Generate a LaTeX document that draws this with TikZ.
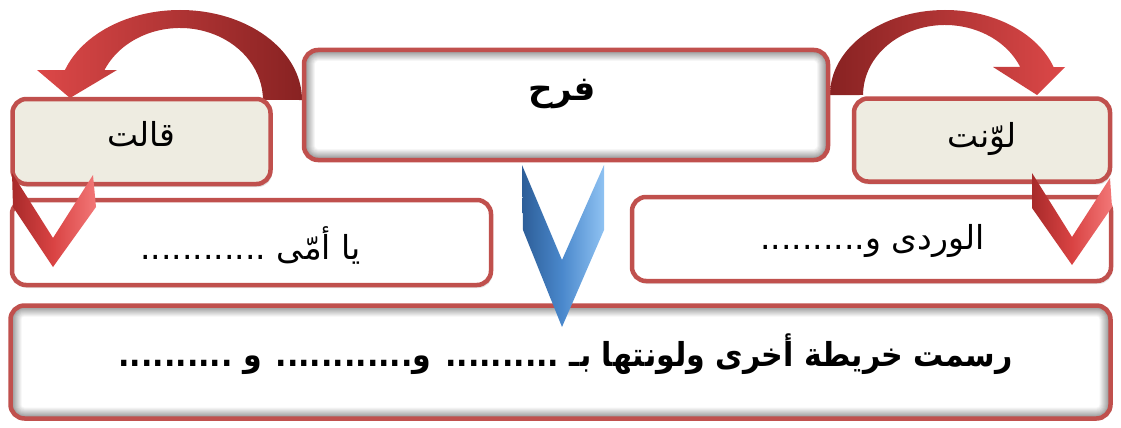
\documentclass[tikz,border=0pt]{standalone}
\usepackage{fontspec}
\usetikzlibrary{calc,shadows}
\TeXXeTstate=1
\newfontfamily\arabicfont[Script=Arabic]{DejaVu Sans}
\newfontfamily\arabiccond[Script=Arabic,FakeStretch=0.91]{DejaVu Sans}
\definecolor{boxred}{HTML}{C0504D}
\definecolor{beige}{HTML}{EEECE1}
\definecolor{arrowlight}{HTML}{DC4848}
\definecolor{arrowdark}{HTML}{882222}
\definecolor{chevlight}{HTML}{F27777}
\definecolor{chevmid}{HTML}{D94343}
\definecolor{chevdark}{HTML}{A82A2A}
\definecolor{bluelight}{HTML}{8FC2F2}
\definecolor{bluemid}{HTML}{4A88CC}
\definecolor{bluedark}{HTML}{2D5E98}
\tikzset{
  frame/.style={draw=boxred, line width=4.5pt, rounded corners=14pt, inner sep=0pt},
  beigebox/.style={frame, fill=beige, drop shadow={opacity=0.25, shadow xshift=1.5pt, shadow yshift=-3pt}},
  whitebox/.style={frame, fill=white, drop shadow={opacity=0.2, shadow xshift=1.5pt, shadow yshift=-3pt}},
  glowbox/.style={frame, fill=white,
    path picture={
      \foreach \ii in {0,...,11}{
        \pgfmathtruncatemacro\shadeval{max(44-4*\ii,0)}
        \pgfmathsetmacro\rr{max(14-\ii,2)}
        \fill[black!\shadeval!white, rounded corners=\rr pt]
          ($(path picture bounding box.north west)+(\ii,\ii)$) rectangle
          ($(path picture bounding box.south east)+(-\ii,-\ii)$);
      }
    }},
  lbl/.style={font=\arabicfont\fontsize{33}{38}\selectfont, inner sep=0pt},
  boldlbl/.style={font=\arabicfont\bfseries\fontsize{34}{38}\selectfont, inner sep=0pt},
  condlbl/.style={font=\arabiccond\bfseries\fontsize{33}{38}\selectfont, inner sep=0pt},
}
\begin{document}
\begin{tikzpicture}[x=1pt,y=-1pt]
\useasboundingbox (0,0) rectangle (1121,428);

% curved arrows (behind the top box)
\shade[left color=arrowlight, right color=arrowdark]
  (302,100) arc[start angle=0, end angle=-160.53, x radius=122, y radius=90]
  -- (37,70) -- (70,98) -- (117,70) -- (104.5,70)
  arc[start angle=-155.38, end angle=0, x radius=83, y radius=72] -- cycle;
\shade[left color=arrowdark, right color=arrowlight]
  (830,95) arc[start angle=180, end angle=340.8, x radius=115, y radius=85]
  -- (1065,67) -- (1037,95) -- (993,67) -- (1020.2,67)
  arc[start angle=336.42, end angle=180, x radius=82, y radius=70] -- cycle;

% boxes
\node[glowbox, minimum width=524pt, minimum height=110pt] (top) at (566,105) {};
\node[beigebox, minimum width=258pt, minimum height=85pt] (said) at (141.5,141.5) {};
\node[beigebox, minimum width=256pt, minimum height=83pt] (colored) at (982,140) {};
\node[whitebox, minimum width=479pt, minimum height=85pt] (mom) at (251.5,242.5) {};
\node[whitebox, minimum width=479pt, minimum height=84pt] (pink) at (871.5,239) {};
\node[glowbox, minimum width=1100pt, minimum height=113pt] (drew) at (560.5,362) {};

% texts
\node[boldlbl] (ttop) at ($(top.center)+(-4,-11)$) {\beginR فرح\endR};
\node[lbl] (tsaid) at ($(said.center)+(0,-7)$) {\beginR قالت\endR};
\node[lbl] (tcol) at ($(colored.center)+(0,-1)$) {\beginR لوّنت\endR};
\node[lbl] (tmom) at ($(mom.center)+(-1,3)$) {\beginR يا أمّى ............\endR};
\node[lbl] (tpink) at ($(pink.center)+(1,2)$) {\beginR الوردى و..........\endR};
\node[condlbl] (tdrew) at ($(drew.center)+(5,-8)$) {\beginR رسمت خريطة أخرى ولونتها بـ .......... و............ و ..........\endR};

% red chevrons
\shade[left color=chevdark, right color=chevmid] (12,173) -- (53,238) -- (53,267) -- (13,207) -- cycle;
\shade[left color=chevmid, right color=chevlight] (93,175) -- (53,238) -- (53,267) -- (96,207) -- cycle;
\shade[left color=chevdark, right color=chevmid] (1032,173) -- (1072,237) -- (1072,265) -- (1032,208) -- cycle;
\shade[left color=chevmid, right color=chevlight] (1110,178) -- (1072,237) -- (1072,265) -- (1112,207) -- cycle;

% blue chevron
\shade[left color=bluedark, right color=bluemid] (522,165) -- (562,260) -- (562,327) -- (523,230) -- cycle;
\shade[left color=bluemid, right color=bluelight] (604,165) -- (562,260) -- (562,327) -- (604,230) -- cycle;
\end{tikzpicture}
\end{document}
